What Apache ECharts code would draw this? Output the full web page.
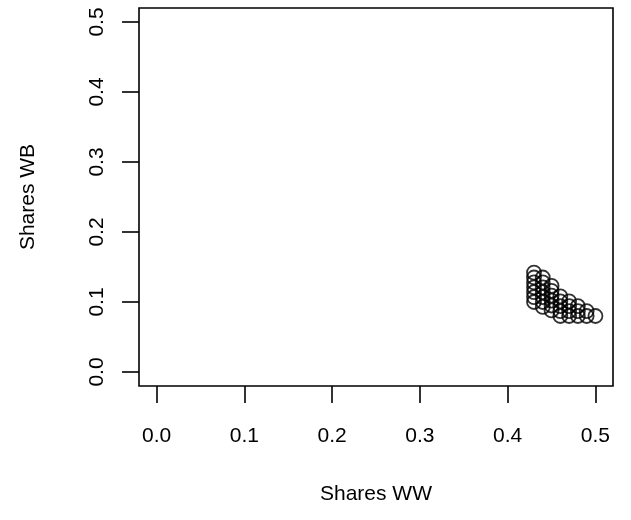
<!DOCTYPE html>
<html>

<head>
    <meta charset="utf-8">
    <script type="text/javascript" src="https://cdn.jsdelivr.net/npm/echarts@6/dist/echarts.min.js"></script>
    <title>Shares WW vs WB</title>
    <style>
        body { margin: 0; background: #fff; }
    </style>
</head>

<body>
    <div id="container" style="width:631px;height:520px;"></div>
    <script type="text/javascript">
    // tick positions on both axes
    var tickValues = [0, 0.1, 0.2, 0.3, 0.4, 0.5];

    // shares of WW (x) and WB (y)
    var sharesWW = [
        0.43, 0.43, 0.43, 0.43, 0.43, 0.43, 0.43,
        0.44, 0.44, 0.44, 0.44, 0.44, 0.44, 0.44,
        0.45, 0.45, 0.45, 0.45, 0.45, 0.45,
        0.46, 0.46, 0.46, 0.46, 0.46,
        0.47, 0.47, 0.47, 0.47,
        0.48, 0.48, 0.48,
        0.49, 0.49,
        0.50
    ];
    var sharesWB = [
        0.100, 0.107, 0.114, 0.121, 0.128, 0.135, 0.142,
        0.093, 0.100, 0.107, 0.114, 0.121, 0.128, 0.135,
        0.088, 0.095, 0.102, 0.109, 0.116, 0.123,
        0.080, 0.087, 0.094, 0.101, 0.108,
        0.080, 0.087, 0.094, 0.101,
        0.080, 0.087, 0.094,
        0.080, 0.087,
        0.080
    ];

    var points = sharesWW.map(function (x, i) { return [x, sharesWB[i]]; });

    var myChart = echarts.init(document.getElementById('container'));

    var font = 'Liberation Sans, Arial, Helvetica, sans-serif';

    var option = {
        backgroundColor: '#fff',
        animation: false,
        grid: {
            left: 139, right: 18, top: 8, bottom: 134,
            show: true,
            borderColor: '#000',
            borderWidth: 1.6,
            backgroundColor: 'transparent'
        },
        xAxis: {
            type: 'value',
            min: -0.02, max: 0.52,
            name: 'Shares WW',
            nameLocation: 'middle',
            nameGap: 98,
            nameTextStyle: { fontFamily: font, fontSize: 21, color: '#000' },
            axisLine: { show: false, onZero: false },
            splitLine: { show: false },
            axisTick: {
                show: true, length: 17,
                customValues: tickValues,
                lineStyle: { color: '#000', width: 1.6 }
            },
            axisLabel: {
                customValues: tickValues,
                margin: 40,
                fontFamily: font, fontSize: 21, color: '#000',
                formatter: function (v) { return v.toFixed(1); }
            }
        },
        yAxis: {
            type: 'value',
            min: -0.02, max: 0.52,
            name: 'Shares WB',
            nameLocation: 'middle',
            nameGap: 100,
            nameRotate: 90,
            nameTextStyle: { fontFamily: font, fontSize: 21, color: '#000' },
            axisLine: { show: false, onZero: false },
            splitLine: { show: false },
            axisTick: {
                show: true, length: 17,
                customValues: tickValues,
                lineStyle: { color: '#000', width: 1.6 }
            },
            axisLabel: {
                customValues: tickValues,
                rotate: 90,
                margin: 31,
                fontFamily: font, fontSize: 21, color: '#000',
                formatter: function (v) { return v.toFixed(1); }
            }
        },
        series: [{
            type: 'scatter',
            data: points,
            symbol: 'circle',
            symbolSize: 14,
            itemStyle: {
                color: 'transparent',
                borderColor: '#000',
                borderWidth: 1.8
            }
        }]
    };

    myChart.setOption(option);
    </script>
</body>

</html>
